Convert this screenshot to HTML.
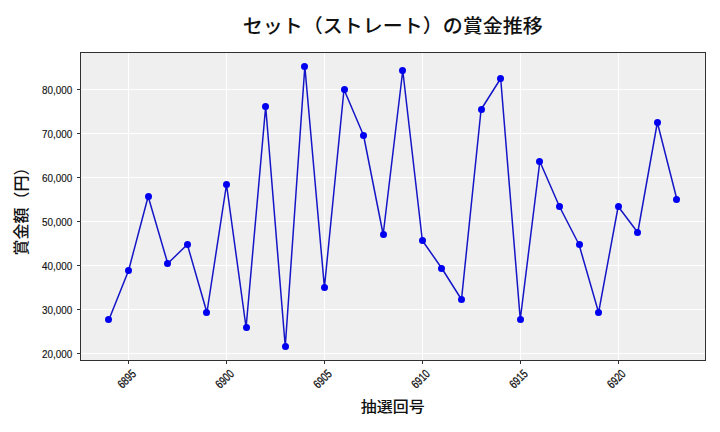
<!DOCTYPE html>
<html><head><meta charset="utf-8"><style>
html,body{margin:0;padding:0;background:#fff;width:720px;height:432px;overflow:hidden}
svg{display:block}
.tk{font-family:"Liberation Sans","Noto Sans CJK JP",sans-serif;font-size:11px;fill:#111;stroke:#111;stroke-width:0.15px}
.xt{font-size:12px;stroke-width:0.3px}
.title{font-family:"Noto Sans CJK JP","Liberation Sans",sans-serif;font-size:20px;font-weight:500;fill:#111}
.xl,.yl{font-family:"Noto Sans CJK JP","Liberation Sans",sans-serif;font-size:16px;font-weight:500;fill:#111}
</style></head><body>
<svg width="720" height="432" viewBox="0 0 720 432">
<rect width="720" height="432" fill="#fff"/>
<rect x="80.4" y="52.4" width="625.0" height="308.1" fill="#efefef"/>
<line x1="128.5" y1="52.4" x2="128.5" y2="360.5" stroke="#fff" stroke-width="1"/>
<line x1="226.5" y1="52.4" x2="226.5" y2="360.5" stroke="#fff" stroke-width="1"/>
<line x1="324.5" y1="52.4" x2="324.5" y2="360.5" stroke="#fff" stroke-width="1"/>
<line x1="422.5" y1="52.4" x2="422.5" y2="360.5" stroke="#fff" stroke-width="1"/>
<line x1="520.5" y1="52.4" x2="520.5" y2="360.5" stroke="#fff" stroke-width="1"/>
<line x1="618.5" y1="52.4" x2="618.5" y2="360.5" stroke="#fff" stroke-width="1"/>
<line x1="80.4" y1="353.5" x2="705.4" y2="353.5" stroke="#fff" stroke-width="1"/>
<line x1="80.4" y1="309.5" x2="705.4" y2="309.5" stroke="#fff" stroke-width="1"/>
<line x1="80.4" y1="265.5" x2="705.4" y2="265.5" stroke="#fff" stroke-width="1"/>
<line x1="80.4" y1="221.5" x2="705.4" y2="221.5" stroke="#fff" stroke-width="1"/>
<line x1="80.4" y1="177.5" x2="705.4" y2="177.5" stroke="#fff" stroke-width="1"/>
<line x1="80.4" y1="133.5" x2="705.4" y2="133.5" stroke="#fff" stroke-width="1"/>
<line x1="80.4" y1="89.5" x2="705.4" y2="89.5" stroke="#fff" stroke-width="1"/>
<polyline points="109.00,319.50 128.58,270.50 148.16,196.50 167.75,263.50 187.33,244.50 206.92,312.50 226.50,184.50 246.08,327.50 265.67,106.50 285.25,346.50 304.84,66.50 324.42,287.50 344.00,89.50 363.59,135.50 383.17,234.50 402.76,70.50 422.34,240.50 441.92,268.50 461.51,299.50 481.09,109.50 500.68,78.50 520.26,319.50 539.84,161.50 559.43,206.50 579.01,244.50 598.60,312.50 618.18,206.50 637.76,232.50 657.35,122.50 676.93,199.50" fill="none" stroke="#1515c8" stroke-width="1.5" stroke-linejoin="round"/>
<circle cx="108.50" cy="319.50" r="3.5" fill="#0000f0"/>
<circle cx="128.50" cy="270.50" r="3.5" fill="#0000f0"/>
<circle cx="148.50" cy="196.50" r="3.5" fill="#0000f0"/>
<circle cx="167.50" cy="263.50" r="3.5" fill="#0000f0"/>
<circle cx="187.50" cy="244.50" r="3.5" fill="#0000f0"/>
<circle cx="206.50" cy="312.50" r="3.5" fill="#0000f0"/>
<circle cx="226.50" cy="184.50" r="3.5" fill="#0000f0"/>
<circle cx="246.50" cy="327.50" r="3.5" fill="#0000f0"/>
<circle cx="265.50" cy="106.50" r="3.5" fill="#0000f0"/>
<circle cx="285.50" cy="346.50" r="3.5" fill="#0000f0"/>
<circle cx="304.50" cy="66.50" r="3.5" fill="#0000f0"/>
<circle cx="324.50" cy="287.50" r="3.5" fill="#0000f0"/>
<circle cx="344.50" cy="89.50" r="3.5" fill="#0000f0"/>
<circle cx="363.50" cy="135.50" r="3.5" fill="#0000f0"/>
<circle cx="383.50" cy="234.50" r="3.5" fill="#0000f0"/>
<circle cx="402.50" cy="70.50" r="3.5" fill="#0000f0"/>
<circle cx="422.50" cy="240.50" r="3.5" fill="#0000f0"/>
<circle cx="441.50" cy="268.50" r="3.5" fill="#0000f0"/>
<circle cx="461.50" cy="299.50" r="3.5" fill="#0000f0"/>
<circle cx="481.50" cy="109.50" r="3.5" fill="#0000f0"/>
<circle cx="500.50" cy="78.50" r="3.5" fill="#0000f0"/>
<circle cx="520.50" cy="319.50" r="3.5" fill="#0000f0"/>
<circle cx="539.50" cy="161.50" r="3.5" fill="#0000f0"/>
<circle cx="559.50" cy="206.50" r="3.5" fill="#0000f0"/>
<circle cx="579.50" cy="244.50" r="3.5" fill="#0000f0"/>
<circle cx="598.50" cy="312.50" r="3.5" fill="#0000f0"/>
<circle cx="618.50" cy="206.50" r="3.5" fill="#0000f0"/>
<circle cx="637.50" cy="232.50" r="3.5" fill="#0000f0"/>
<circle cx="657.50" cy="122.50" r="3.5" fill="#0000f0"/>
<circle cx="676.50" cy="199.50" r="3.5" fill="#0000f0"/>
<rect x="80.5" y="52.5" width="625.0" height="308.0" fill="none" stroke="#303030" stroke-width="1"/>
<line x1="128.5" y1="360.5" x2="128.5" y2="364.0" stroke="#303030" stroke-width="1"/>
<text x="126.58" y="378.80" transform="rotate(-45 126.58 378.80)" class="tk xt" text-anchor="middle" dy="0.36em" textLength="20.3" lengthAdjust="spacingAndGlyphs">6895</text>
<line x1="226.5" y1="360.5" x2="226.5" y2="364.0" stroke="#303030" stroke-width="1"/>
<text x="224.50" y="378.80" transform="rotate(-45 224.50 378.80)" class="tk xt" text-anchor="middle" dy="0.36em" textLength="20.3" lengthAdjust="spacingAndGlyphs">6900</text>
<line x1="324.5" y1="360.5" x2="324.5" y2="364.0" stroke="#303030" stroke-width="1"/>
<text x="322.42" y="378.80" transform="rotate(-45 322.42 378.80)" class="tk xt" text-anchor="middle" dy="0.36em" textLength="20.3" lengthAdjust="spacingAndGlyphs">6905</text>
<line x1="422.5" y1="360.5" x2="422.5" y2="364.0" stroke="#303030" stroke-width="1"/>
<text x="420.34" y="378.80" transform="rotate(-45 420.34 378.80)" class="tk xt" text-anchor="middle" dy="0.36em" textLength="20.3" lengthAdjust="spacingAndGlyphs">6910</text>
<line x1="520.5" y1="360.5" x2="520.5" y2="364.0" stroke="#303030" stroke-width="1"/>
<text x="518.26" y="378.80" transform="rotate(-45 518.26 378.80)" class="tk xt" text-anchor="middle" dy="0.36em" textLength="20.3" lengthAdjust="spacingAndGlyphs">6915</text>
<line x1="618.5" y1="360.5" x2="618.5" y2="364.0" stroke="#303030" stroke-width="1"/>
<text x="616.18" y="378.80" transform="rotate(-45 616.18 378.80)" class="tk xt" text-anchor="middle" dy="0.36em" textLength="20.3" lengthAdjust="spacingAndGlyphs">6920</text>
<line x1="80.5" y1="353.5" x2="77.0" y2="353.5" stroke="#303030" stroke-width="1"/>
<text x="72.2" y="354.00" class="tk" text-anchor="end" dy="0.36em" textLength="30.3" lengthAdjust="spacingAndGlyphs">20,000</text>
<line x1="80.5" y1="309.5" x2="77.0" y2="309.5" stroke="#303030" stroke-width="1"/>
<text x="72.2" y="310.00" class="tk" text-anchor="end" dy="0.36em" textLength="30.3" lengthAdjust="spacingAndGlyphs">30,000</text>
<line x1="80.5" y1="265.5" x2="77.0" y2="265.5" stroke="#303030" stroke-width="1"/>
<text x="72.2" y="266.00" class="tk" text-anchor="end" dy="0.36em" textLength="30.3" lengthAdjust="spacingAndGlyphs">40,000</text>
<line x1="80.5" y1="221.5" x2="77.0" y2="221.5" stroke="#303030" stroke-width="1"/>
<text x="72.2" y="222.00" class="tk" text-anchor="end" dy="0.36em" textLength="30.3" lengthAdjust="spacingAndGlyphs">50,000</text>
<line x1="80.5" y1="177.5" x2="77.0" y2="177.5" stroke="#303030" stroke-width="1"/>
<text x="72.2" y="178.00" class="tk" text-anchor="end" dy="0.36em" textLength="30.3" lengthAdjust="spacingAndGlyphs">60,000</text>
<line x1="80.5" y1="133.5" x2="77.0" y2="133.5" stroke="#303030" stroke-width="1"/>
<text x="72.2" y="134.00" class="tk" text-anchor="end" dy="0.36em" textLength="30.3" lengthAdjust="spacingAndGlyphs">70,000</text>
<line x1="80.5" y1="89.5" x2="77.0" y2="89.5" stroke="#303030" stroke-width="1"/>
<text x="72.2" y="90.00" class="tk" text-anchor="end" dy="0.36em" textLength="30.3" lengthAdjust="spacingAndGlyphs">80,000</text>
<text x="0" y="0" transform="translate(392.7 32.6) scale(1 0.95)" class="title" text-anchor="middle">セット（ストレート）の賞金推移</text>
<text x="0" y="0" transform="translate(392.8 412) scale(1 0.93)" class="xl" text-anchor="middle">抽選回号</text>
<text x="0" y="0" transform="translate(27.4 207.5) rotate(-90)" class="yl" text-anchor="middle">賞金額（円）</text>
</svg>
</body></html>
